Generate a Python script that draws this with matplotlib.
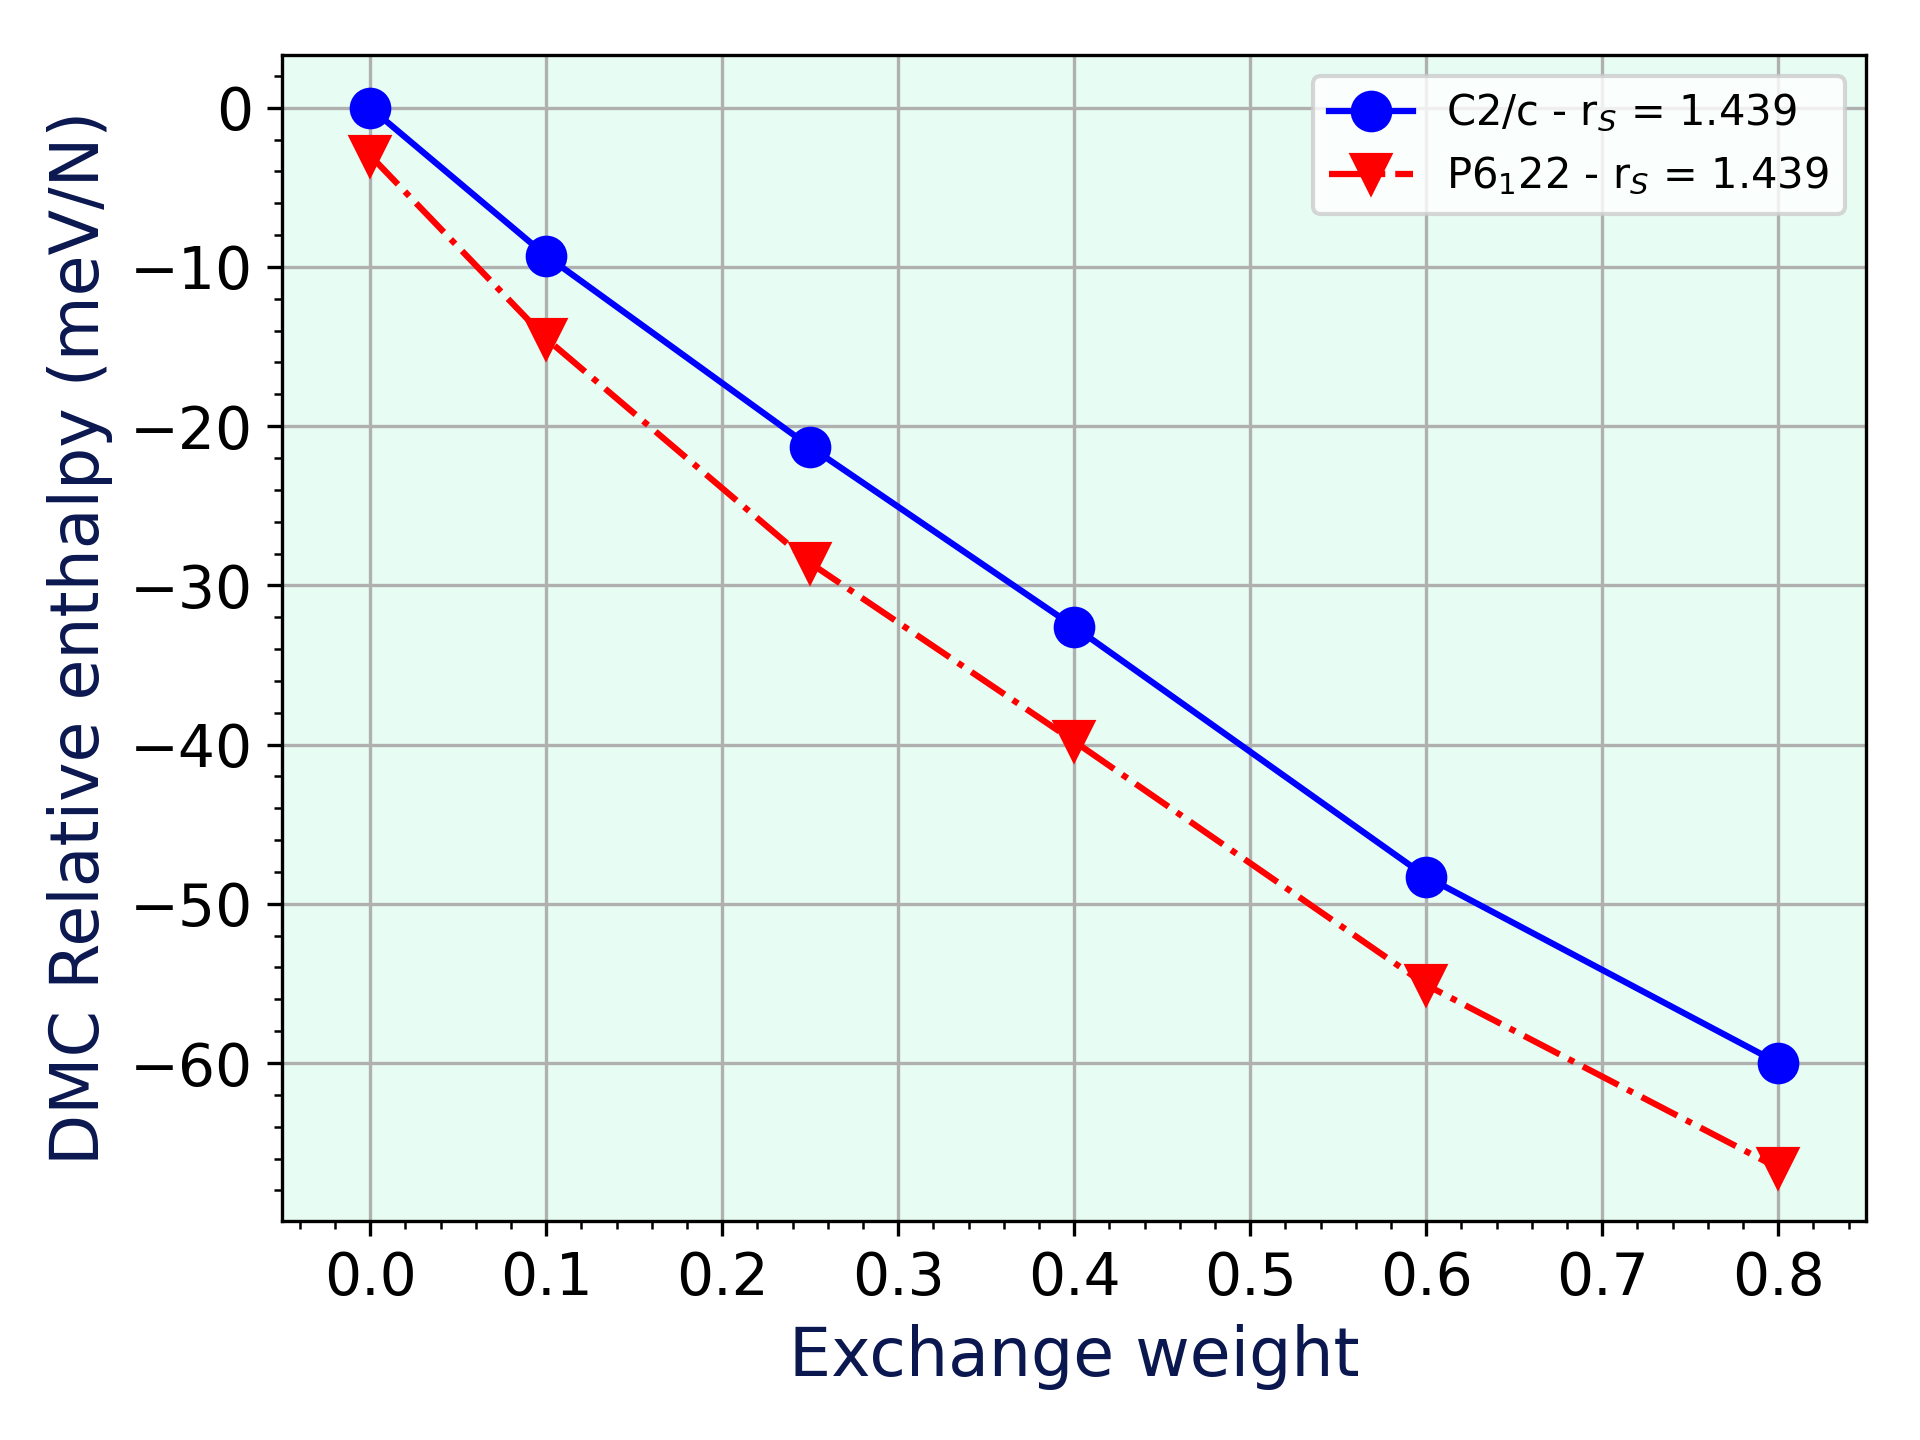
import matplotlib
matplotlib.use('Agg')
import matplotlib.pyplot as plt
from matplotlib.ticker import MultipleLocator

# exchange weight vs DMC relative enthalpy
weights = [0.0, 0.1, 0.25, 0.4, 0.6, 0.8]
h_c2c = [0.0, -9.3, -21.3, -32.6, -48.3, -60.0]
h_p6122 = [-3.0, -14.5, -28.6, -39.8, -55.1, -66.6]

label_c2c = r'C2/c - r$_S$ = 1.439'
label_p6122 = r'P6$_1$22 - r$_S$ = 1.439'

fig = plt.figure(figsize=(6.4, 4.8), dpi=300)
ax = fig.add_subplot(111)
ax.set_facecolor('#e7fdf3')

ax.plot(weights, h_c2c, color='blue', ls='-', lw=1.5, marker='o', ms=9, label=label_c2c)
ax.plot(weights, h_p6122, color='red', ls='-.', lw=1.5, marker='v', ms=9, label=label_p6122)

ax.set_xlim(-0.05, 0.85)
ax.grid(True, color='#b0b0b0', lw=0.8)
ax.set_axisbelow(True)
ax.xaxis.set_minor_locator(MultipleLocator(0.02))
ax.yaxis.set_minor_locator(MultipleLocator(2))
ax.tick_params(labelsize=14)

ax.set_xlabel('Exchange weight', fontsize=16, color='#0b1850')
ax.set_ylabel('DMC Relative enthalpy (meV/N)', fontsize=16, color='#0b1850')
ax.legend(loc='upper right', fontsize=10)

fig.subplots_adjust(left=0.147, right=0.972, top=0.962, bottom=0.152)
fig.savefig('out.png', dpi=300)
